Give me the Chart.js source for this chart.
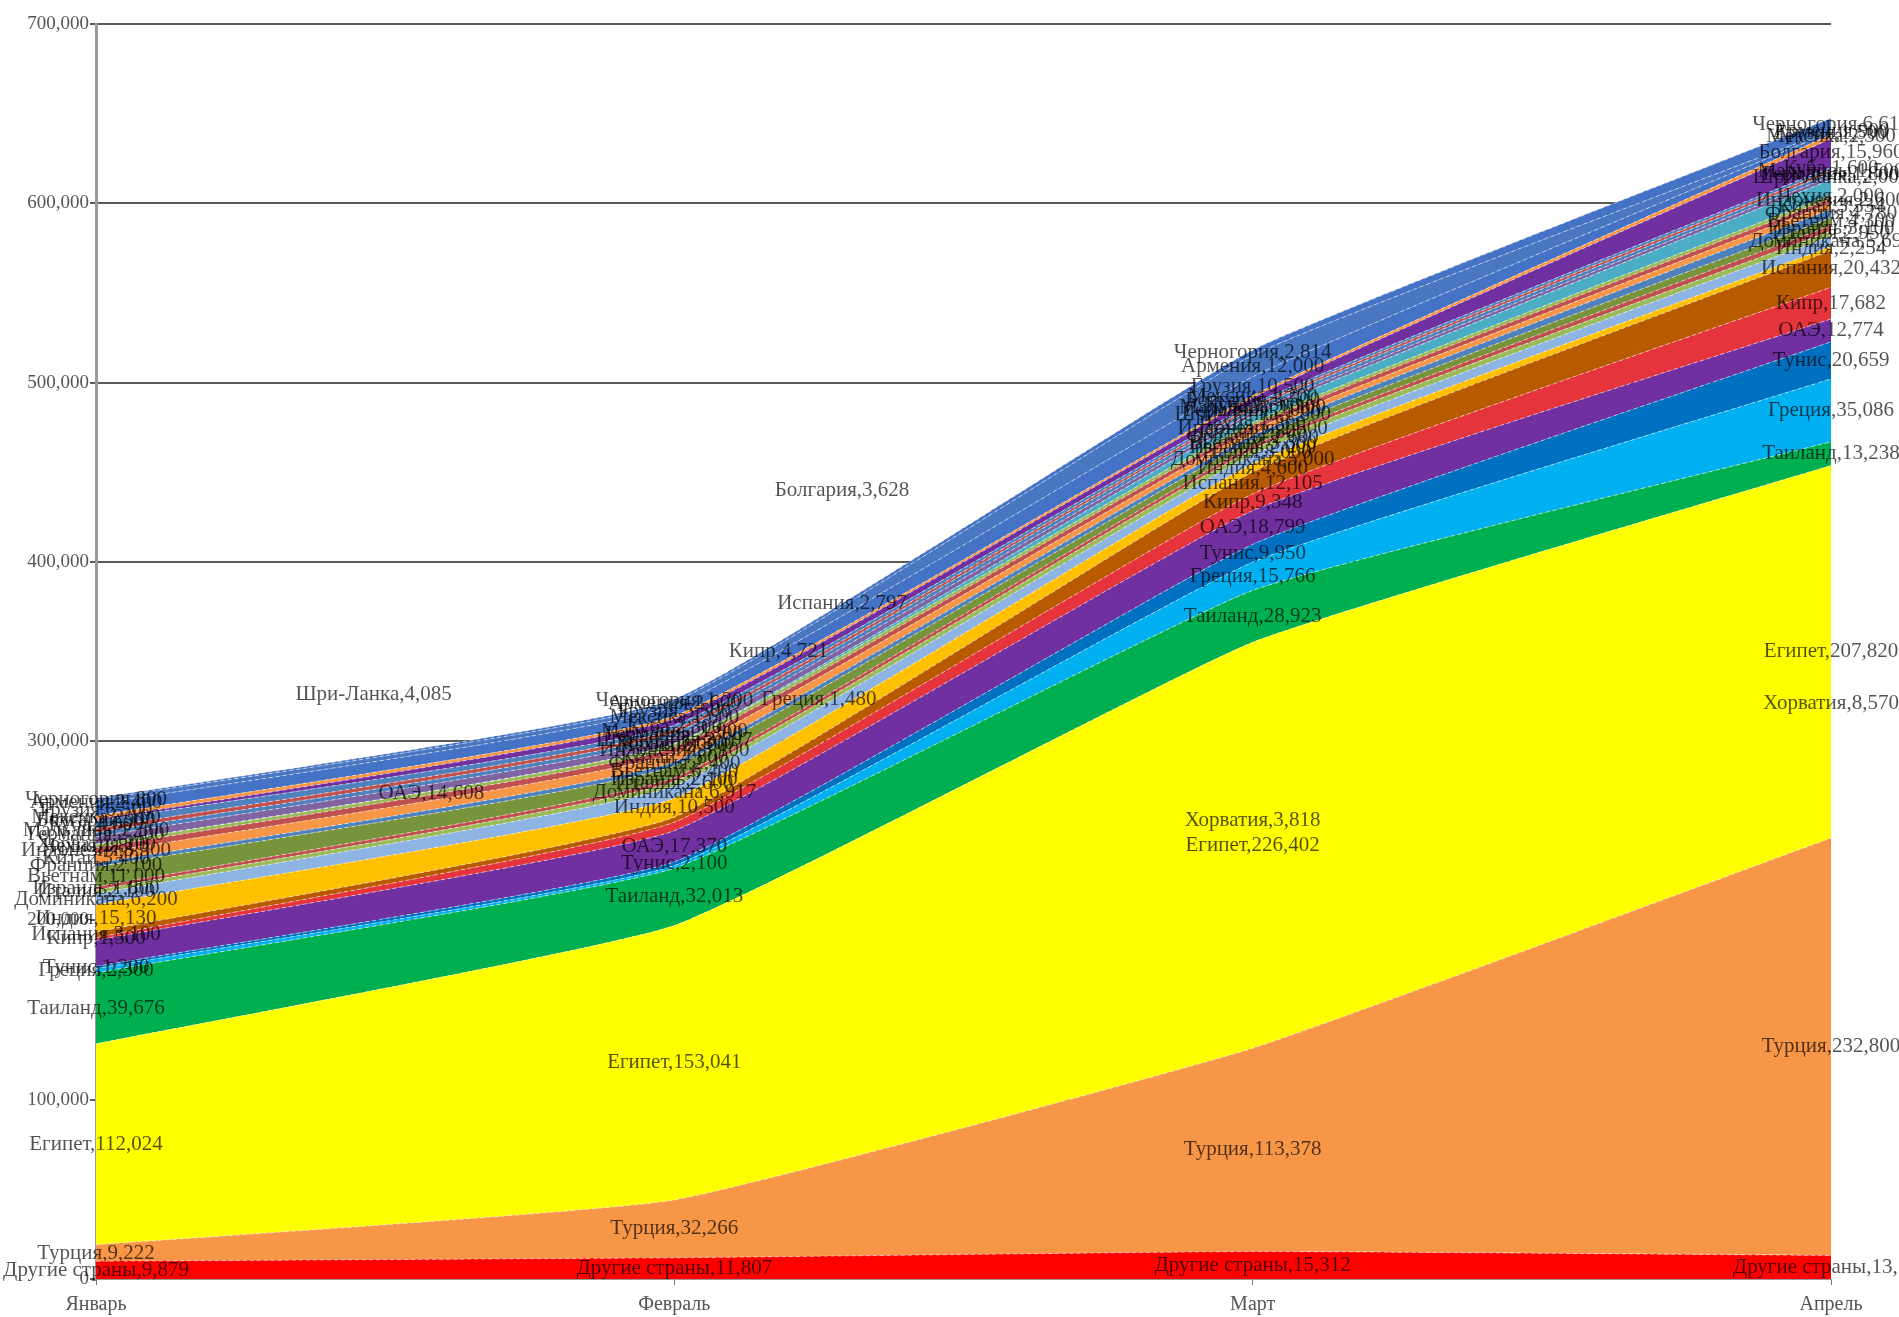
<!DOCTYPE html>
<html>
<head>
<meta charset="utf-8">
<script src="https://cdn.jsdelivr.net/npm/chart.js@4.4.1/dist/chart.umd.min.js"></script>
<style>
  html, body { margin: 0; padding: 0; background: #ffffff; }
  #wrap { width: 1899px; height: 1317px; position: relative; }
</style>
</head>
<body>
<div id="wrap"><canvas id="c"></canvas></div>
<script>
// ---------- DATA ----------
const categories = ['Январь', 'Февраль', 'Март', 'Апрель'];
const yTickValues = [0, 100000, 200000, 300000, 400000, 500000, 600000, 700000];

// series, bottom of the stack first
const seriesNames = [
  'Другие страны', 'Турция', 'Египет', 'Таиланд', 'Греция', 'Тунис', 'ОАЭ', 'Кипр',
  'Испания', 'Индия', 'Доминикана', 'Италия', 'Израиль', 'Вьетнам', 'Франция', 'Китай',
  'Индонезия', 'Чехия', 'Хорватия', 'Шри-Ланка', 'Германия', 'Мальдивы', 'Куба',
  'Болгария', 'Мексика', 'Грузия', 'Армения', 'Черногория'
];
const vDrugie     = [9879, 11807, 15312, 13130];
const vTurkey     = [9222, 32266, 113378, 232800];
const vEgypt      = [112024, 153041, 226402, 207820];
const vThailand   = [39676, 32013, 28923, 13238];
const vGreece     = [2300, 1480, 15766, 35086];
const vTunisia    = [1200, 2100, 9950, 20659];
const vUAE        = [14608, 17370, 18799, 12774];
const vCyprus     = [1500, 4721, 9348, 17682];
const vSpain      = [3100, 2797, 12105, 20432];
const vIndia      = [15130, 10500, 4600, 2254];
const vDominicana = [6200, 6917, 5000, 5690];
const vItaly      = [2100, 2600, 3000, 2950];
const vIsrael     = [1800, 2100, 2000, 3100];
const vVietnam    = [11000, 6400, 3300, 4300];
const vFrance     = [2100, 2400, 2600, 4780];
const vChina      = [5400, 4800, 2800, 3334];
const vIndonesia  = [3300, 3100, 2500, 2600];
const vCzech      = [1800, 2000, 1800, 2000];
const vCroatia    = [200, 300, 3818, 8570];
const vSriLanka   = [4085, 3597, 1800, 2000];
const vGermany    = [2400, 2300, 2000, 1800];
const vMaldives   = [2300, 1900, 1300, 1500];
const vCuba       = [4000, 2300, 1500, 1600];
const vBulgaria   = [900, 3628, 3500, 15960];
const vMexico     = [2100, 1600, 1200, 2300];
const vGeorgia    = [6500, 5500, 10500, 1500];
const vArmenia    = [2400, 2600, 12000, 900];
const vMontenegro = [800, 1200, 2814, 6610];

const seriesValues = [
  vDrugie, vTurkey, vEgypt, vThailand, vGreece, vTunisia, vUAE, vCyprus,
  vSpain, vIndia, vDominicana, vItaly, vIsrael, vVietnam, vFrance, vChina,
  vIndonesia, vCzech, vCroatia, vSriLanka, vGermany, vMaldives, vCuba,
  vBulgaria, vMexico, vGeorgia, vArmenia, vMontenegro
];

// ---------- STYLE ----------
const palette = [
  '#ff0000', '#f79646', '#ffff00', '#00b050', '#00b0f0', '#0070c0', '#7030a0', '#e5343c',
  '#b85a00', '#ffc000', '#8db4e2', '#9bbb59', '#c0504d', '#77933c', '#4f81bd', '#f79646',
  '#c0504d', '#9bbb59', '#4bacc6', '#8064a2', '#4f81bd', '#c0504d', '#4f81bd',
  '#7030a0', '#f79646', '#4472c4', '#4a78c0', '#4472c4'
];

// labels that the reference places away from their band (category position, value level)
const labelOverrides = [
  { name: 'Шри-Ланка', idx: 0, at: 0.48, level: 326000 },
  { name: 'ОАЭ', idx: 0, at: 0.58, level: 271000 },
  { name: 'Болгария', idx: 1, at: 1.29, level: 440000 },
  { name: 'Испания', idx: 1, at: 1.29, level: 377000 },
  { name: 'Кипр', idx: 1, at: 1.18, level: 350000 },
  { name: 'Греция', idx: 1, at: 1.25, level: 323000 },
  { name: 'Хорватия', idx: 2, at: 2.0, level: 256000 },
  { name: 'Хорватия', idx: 3, at: 3.0, level: 321000 }
];

const fmt = v => Number(v).toLocaleString('en-US');
const serif = '"Liberation Serif", "Times New Roman", serif';

const datasets = seriesNames.map((name, i) => ({
  label: name,
  data: seriesValues[i],
  backgroundColor: palette[i],
  borderColor: 'rgba(255,255,255,0.55)',
  borderWidth: 1,
  borderDash: [4, 3],
  fill: i === 0 ? 'origin' : '-1',
  pointRadius: 0,
  pointHoverRadius: 0,
  tension: 0.12
}));

const labelPlugin = {
  id: 'bandLabels',
  afterDatasetsDraw(chart) {
    const ctx = chart.ctx;
    const xs = chart.scales.x, ys = chart.scales.y;
    const xAt = (pos) => {
      const i0 = Math.floor(pos), i1 = Math.min(i0 + 1, categories.length - 1);
      const p0 = xs.getPixelForValue(i0), p1 = xs.getPixelForValue(i1);
      return p0 + (p1 - p0) * (pos - i0);
    };
    ctx.save();
    ctx.font = '21px ' + serif;
    ctx.textAlign = 'center';
    ctx.textBaseline = 'middle';
    ctx.fillStyle = 'rgba(0,0,0,0.68)';
    for (let j = 0; j < categories.length; j++) {
      let base = 0;
      for (let i = 0; i < seriesNames.length; i++) {
        const v = seriesValues[i][j];
        const ov = labelOverrides.find(o => o.name === seriesNames[i] && o.idx === j);
        const level = ov ? ov.level : base + v / 2;
        const x = ov ? xAt(ov.at) : xs.getPixelForValue(j);
        const y = ys.getPixelForValue(level);
        ctx.fillText(seriesNames[i] + ',' + fmt(v), x, y);
        base += v;
      }
    }
    ctx.restore();
  }
};

new Chart(document.getElementById('c'), {
  type: 'line',
  data: { labels: categories, datasets },
  options: {
    responsive: true,
    maintainAspectRatio: false,
    animation: false,
    events: [],
    layout: { padding: { left: 0, right: 68, top: 24, bottom: 0 } },
    plugins: {
      legend: { display: false },
      tooltip: { enabled: false },
      title: { display: false }
    },
    scales: {
      x: {
        type: 'category',
        offset: false,
        grid: { display: true, drawOnChartArea: false, drawTicks: true, tickLength: 6, color: '#777', lineWidth: 1 },
        border: { display: true, color: '#999', width: 1 },
        ticks: {
          color: '#555',
          padding: 8,
          maxRotation: 0,
          font: { family: serif, size: 20 }
        },
        afterFit(scale) { scale.height = 38; }
      },
      y: {
        stacked: true,
        min: 0,
        max: 700000,
        afterBuildTicks(scale) { scale.ticks = yTickValues.map(v => ({ value: v })); },
        grid: { color: '#5a5a5a', lineWidth: 2, tickLength: 6, drawTicks: true },
        border: { display: true, color: '#9a9a9a', width: 3 },
        ticks: {
          color: '#555',
          padding: 1,
          font: { family: serif, size: 19 },
          callback: (v) => fmt(v)
        },
        afterFit(scale) { scale.width = 96; }
      }
    }
  },
  plugins: [labelPlugin]
});
</script>
</body>
</html>
